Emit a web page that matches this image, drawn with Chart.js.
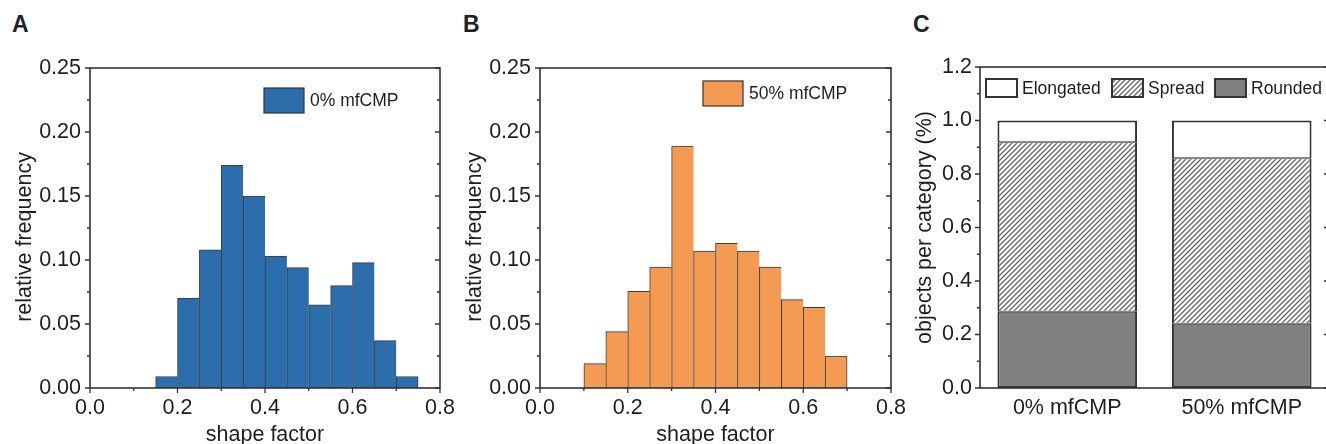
<!DOCTYPE html>
<html>
<head>
<meta charset="utf-8">
<title>shape factor distributions</title>
<script src="https://cdn.jsdelivr.net/npm/chart.js"></script>
<style>
    html, body { margin: 0; padding: 0; background: #fff; }
    body { position: relative; width: 1326px; height: 444px; overflow: hidden; font-family: "Liberation Sans", Arial, sans-serif; }
    .panel { position: absolute; top: 0; height: 444px; }
    .letter { position: absolute; top: 13px; font-weight: bold; font-size: 23px; line-height: 1; color: #222; }
</style>
</head>
<body>
<div class="letter" style="left:12px">A</div>
<div class="letter" style="left:463px">B</div>
<div class="letter" style="left:913px">C</div>
<div class="panel" style="left:0"><canvas id="chart_a" width="470" height="444"></canvas></div>
<div class="panel" style="left:450px"><canvas id="chart_b" width="470" height="444"></canvas></div>
<div class="panel" style="left:900px"><canvas id="chart_c" width="440" height="444"></canvas></div>
<script>
// histogram bins (centres), bin width 0.05
const binCentersA = [0.175, 0.225, 0.275, 0.325, 0.375, 0.425, 0.475, 0.525, 0.575, 0.625, 0.675, 0.725];
const freqA = [0.009, 0.070, 0.108, 0.174, 0.150, 0.103, 0.094, 0.065, 0.080, 0.098, 0.037, 0.009];

const binCentersB = [0.125, 0.175, 0.225, 0.275, 0.325, 0.375, 0.425, 0.475, 0.525, 0.575, 0.625, 0.675];
const freqB = [0.019, 0.044, 0.0755, 0.0945, 0.189, 0.107, 0.113, 0.107, 0.0945, 0.069, 0.063, 0.025];

// stacked fractions per group
const groups = ['0% mfCMP', '50% mfCMP'];
const rounded = [0.285, 0.240];
const spread = [0.634, 0.619];
const elongated = [0.081, 0.141];

const FONT = '"Liberation Sans", Arial, sans-serif';
const TEXT = '#1e1e1e';
const AXIS = '#333333';
const BLUE = '#2b6eab';
const ORANGE = '#f49a52';
const GREY = '#808080';

// Origin-style frame: box around plot, outward ticks left/bottom, inward ticks right
const frameTicks = {
    id: 'frameTicks',
    afterDatasetsDraw(chart, args, opts) {
        const { ctx, chartArea: a } = chart;
        const xs = chart.scales.x, ys = chart.scales.y;
        const maj = 5, min = 3;
        ctx.save();
        ctx.strokeStyle = AXIS;
        ctx.lineWidth = 1.6;
        ctx.strokeRect(a.left, a.top, a.right - a.left, a.bottom - a.top);
        ctx.lineWidth = 1.3;
        ctx.beginPath();
        const yv = ys.ticks.map(t => t.value);
        const ystep = yv[1] - yv[0];
        yv.forEach((v, i) => {
            const p = ys.getPixelForValue(v);
            ctx.moveTo(a.left - maj, p); ctx.lineTo(a.left, p);
            ctx.moveTo(a.right, p); ctx.lineTo(a.right - maj, p);
            if (i < yv.length - 1) {
                const m = ys.getPixelForValue(v + ystep / 2);
                ctx.moveTo(a.left - min, m); ctx.lineTo(a.left, m);
                ctx.moveTo(a.right, m); ctx.lineTo(a.right - min, m);
            }
        });
        if (opts.xTicks) {
            const xv = xs.ticks.map(t => t.value);
            const xstep = xv[1] - xv[0];
            xv.forEach((v, i) => {
                const p = xs.getPixelForValue(v);
                ctx.moveTo(p, a.bottom); ctx.lineTo(p, a.bottom + maj);
                if (i < xv.length - 1) {
                    const m = xs.getPixelForValue(v + xstep / 2);
                    ctx.moveTo(m, a.bottom); ctx.lineTo(m, a.bottom + min);
                }
            });
        }
        ctx.stroke();
        ctx.restore();
    }
};

// legend drawn inside the plot frame, offsets relative to chartArea
const boxLegend = {
    id: 'boxLegend',
    afterDraw(chart, args, opts) {
        if (!opts.items) return;
        const { ctx, chartArea: a } = chart;
        ctx.save();
        ctx.font = `${opts.fontSize}px ${FONT}`;
        ctx.textBaseline = 'middle';
        ctx.textAlign = 'left';
        opts.items.forEach(it => {
            const ds = chart.data.datasets[it.dataset];
            const bx = a.left + it.x, by = a.top + opts.y;
            ctx.fillStyle = ds.backgroundColor;
            ctx.fillRect(bx, by, opts.boxWidth, opts.boxHeight);
            ctx.lineWidth = opts.borderWidth;
            ctx.strokeStyle = AXIS;
            ctx.strokeRect(bx, by, opts.boxWidth, opts.boxHeight);
            ctx.fillStyle = TEXT;
            ctx.fillText(ds.label, bx + opts.boxWidth + opts.gap, by + opts.boxHeight / 2 + 1);
        });
        ctx.restore();
    }
};

// keep the plot frame where the layout padding says, ignore label overhang
const noOverhang = (s) => {
    s.paddingLeft = 0; s.paddingRight = 0; s.paddingTop = 0; s.paddingBottom = 0;
};

function makeHatch() {
    const n = 5;
    const c = document.createElement('canvas');
    c.width = n; c.height = n;
    const g = c.getContext('2d');
    g.fillStyle = '#fff';
    g.fillRect(0, 0, n, n);
    g.strokeStyle = '#6a6a6a';
    g.lineWidth = 1.4;
    g.beginPath();
    g.moveTo(-1, n + 1); g.lineTo(n + 1, -1);
    g.moveTo(-1, 1); g.lineTo(1, -1);
    g.moveTo(n - 1, n + 1); g.lineTo(n + 1, n - 1);
    g.stroke();
    return g.createPattern(c, 'repeat');
}

const tickFont = { size: 21.5, family: FONT };
const titleFont = { size: 21.5, family: FONT, lineHeight: 1 };

function histogram(canvasId, centers, freqs, label, color, rightPad, legendX, legendY) {
    const lastIdx = freqs.length - 1;
    return new Chart(document.getElementById(canvasId), {
        type: 'bar',
        data: {
            datasets: [{
                label: label,
                data: centers.map((c, i) => ({ x: c, y: freqs[i] })),
                backgroundColor: color,
                borderColor: '#3d3d3d',
                borderWidth: (ctx) => ctx.dataIndex === lastIdx
                    ? { left: 1, right: 1, top: 1, bottom: 0 }
                    : { left: 1, right: 0, top: 1, bottom: 0 },
                barPercentage: 1,
                categoryPercentage: 1,
            }],
        },
        options: {
            responsive: false,
            animation: false,
            devicePixelRatio: 1,
            layout: { padding: { top: 68, right: rightPad, bottom: 0, left: 0 } },
            plugins: {
                legend: { display: false },
                tooltip: { enabled: false },
                frameTicks: { xTicks: true },
                boxLegend: {
                    y: legendY, boxWidth: 40, boxHeight: 25, borderWidth: 1.2, gap: 6, fontSize: 17.5,
                    items: [{ dataset: 0, x: legendX }],
                },
            },
            scales: {
                x: {
                    type: 'linear', min: 0, max: 0.8, offset: false,
                    grid: { display: false, drawTicks: false },
                    border: { display: false },
                    ticks: { stepSize: 0.2, padding: 7, color: TEXT, font: tickFont, maxRotation: 0, autoSkip: false, callback: v => v.toFixed(1) },
                    title: { display: true, text: 'shape factor', color: TEXT, font: { size: 21.5, family: FONT, lineHeight: 0.8 }, padding: 0 },
                    afterFit: s => { s.height = 56; noOverhang(s); },
                },
                y: {
                    min: 0, max: 0.25,
                    grid: { display: false, drawTicks: false },
                    border: { display: false },
                    ticks: { stepSize: 0.05, padding: 9, color: TEXT, font: tickFont, callback: v => v.toFixed(2) },
                    title: { display: true, text: 'relative frequency   ', color: TEXT, font: titleFont, padding: { top: 14, bottom: 0 } },
                    afterFit: s => { s.width = 90; noOverhang(s); },
                },
            },
        },
        plugins: [frameTicks, boxLegend],
    });
}

// canvases are 470 wide so the "0.8" label can hang past the 450 px panel
histogram('chart_a', binCentersA, freqA, '0% mfCMP', BLUE, 30, 174, 20);
histogram('chart_b', binCentersB, freqB, '50% mfCMP', ORANGE, 29, 163, 13);

const hatch = makeHatch();
new Chart(document.getElementById('chart_c'), {
    type: 'bar',
    data: {
        labels: groups,
        datasets: [
            { label: 'Rounded', data: rounded, backgroundColor: GREY, borderWidth: { left: 2, right: 2, top: 1, bottom: 2 } },
            { label: 'Spread', data: spread, backgroundColor: hatch, borderWidth: { left: 2, right: 2, top: 1, bottom: 1 } },
            { label: 'Elongated', data: elongated, backgroundColor: '#ffffff', borderWidth: { left: 2, right: 2, top: 2, bottom: 1 } },
        ].map(d => Object.assign(d, { borderColor: AXIS, borderSkipped: false, barPercentage: 0.8, categoryPercentage: 1 })),
    },
    options: {
        responsive: false,
        animation: false,
        devicePixelRatio: 1,
        layout: { padding: { top: 67, right: 11, bottom: 0, left: 0 } },
        plugins: {
            legend: { display: false },
            tooltip: { enabled: false },
            frameTicks: { xTicks: false },
            boxLegend: {
                y: 12, boxWidth: 31, boxHeight: 18, borderWidth: 2, gap: 5, fontSize: 17.5,
                items: [{ dataset: 2, x: 6 }, { dataset: 1, x: 132 }, { dataset: 0, x: 235 }],
            },
        },
        scales: {
            x: {
                stacked: true,
                grid: { display: false, drawTicks: false },
                border: { display: false },
                ticks: { padding: 7, color: TEXT, font: tickFont, maxRotation: 0 },
                afterFit: s => { s.height = 56; noOverhang(s); },
            },
            y: {
                stacked: true, min: 0, max: 1.2,
                grid: { display: false, drawTicks: false },
                border: { display: false },
                ticks: { stepSize: 0.2, padding: 8, color: TEXT, font: tickFont, callback: v => v.toFixed(1) },
                title: { display: true, text: 'objects per category (%)', color: TEXT, font: titleFont, padding: { top: 14, bottom: 0 } },
                afterFit: s => { s.width = 80; noOverhang(s); },
            },
        },
    },
    plugins: [frameTicks, boxLegend],
});
</script>
</body>
</html>
